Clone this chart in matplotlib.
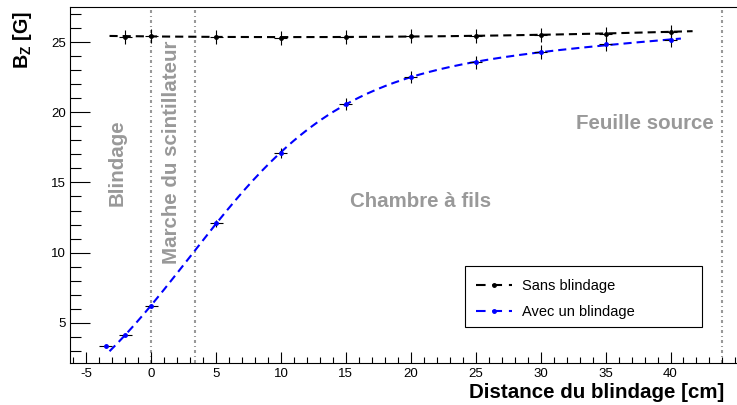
import numpy as np
import matplotlib
matplotlib.use("Agg")
import matplotlib.pyplot as plt
from matplotlib.lines import Line2D
from matplotlib.patches import Rectangle
from matplotlib.ticker import MultipleLocator, FixedLocator

plt.rcParams['font.family'] = ['Liberation Sans', 'DejaVu Sans']
plt.rcParams['mathtext.fontset'] = 'custom'
plt.rcParams['mathtext.rm'] = 'Liberation Sans'
plt.rcParams['mathtext.bf'] = 'Liberation Sans:bold'
plt.rcParams['axes.unicode_minus'] = False

# data
x_sans = [-2, 0, 5, 10, 15, 20, 25, 30, 35, 40]
y_sans = [25.38, 25.45, 25.38, 25.3, 25.35, 25.43, 25.43, 25.52, 25.6, 25.73]
yerr_sans = [0.5, 0.5, 0.5, 0.5, 0.5, 0.5, 0.5, 0.5, 0.5, 0.5]

x_avec = [-3.5, -2, 0, 5, 10, 15, 20, 25, 30, 35, 40]
y_avec = [3.35, 4.15, 6.2, 12.1, 17.1, 20.6, 22.5, 23.55, 24.27, 24.84, 25.14]
yerr_avec = [0.07, 0.08, 0.12, 0.24, 0.34, 0.41, 0.45, 0.47, 0.49, 0.5, 0.5]

xerr = 0.5
zones = [0, 3.4, 44]
xticks = [-5, 0, 5, 10, 15, 20, 25, 30, 35, 40]
fit_sans = (-3.2, 41.7)
fit_avec = (-3.2, 40.8)


def sigmoid_fit(x, y):
    # logistic + linear term; grid on centre/width, least squares for the rest
    x = np.asarray(x, float)
    y = np.asarray(y, float)
    best = None
    for x0 in np.linspace(-5, 15, 201):
        for s in np.linspace(1, 15, 141):
            g = 1 / (1 + np.exp(-(x - x0) / s))
            M = np.column_stack([np.ones_like(x), g, x])
            coef, *_ = np.linalg.lstsq(M, y, rcond=None)
            r = np.sum((M @ coef - y) ** 2)
            if best is None or r < best[0]:
                best = (r, x0, s, coef)
    _, x0, s, c = best
    return lambda t: c[0] + c[1] / (1 + np.exp(-(t - x0) / s)) + c[2] * t


fig = plt.figure(figsize=(7.37, 4.05), dpi=100)
ax = fig.add_axes([0.0954, 0.1044, 0.9046, 0.8775])
ax.set_xlim(-6.22, 45.12)
ax.set_ylim(2.16, 27.47)

grey = '#999999'
for xz in zones:
    ax.axvline(xz, color=grey, lw=1.5, ls=(0, (1.44, 1.44, 0.48, 1.44)), zorder=1)

# fits, only on points inside the fit range
p_sans = np.polyfit(x_sans, y_sans, 2)
xs = np.linspace(*fit_sans, 200)
ax.plot(xs, np.polyval(p_sans, xs), color='k', lw=1.5, ls=(0, (3.9, 2.4)), zorder=3)

xa_pts = np.array(x_avec)
sel = (xa_pts >= fit_avec[0]) & (xa_pts <= fit_avec[1])
f_avec = sigmoid_fit(xa_pts[sel], np.array(y_avec)[sel])
xa = np.linspace(*fit_avec, 200)
ax.plot(xa, f_avec(xa), color='#0000ff', lw=1.5, ls=(0, (3.9, 2.4)), zorder=3)

ax.errorbar(x_sans, y_sans, xerr=xerr, yerr=yerr_sans, fmt='o', ms=2.5,
            color='k', ecolor='k', elinewidth=0.8, capsize=0, zorder=4)
ax.errorbar(x_avec, y_avec, xerr=xerr, yerr=yerr_avec, fmt='o', ms=2.5,
            color='#0000ff', ecolor='k', elinewidth=0.8, capsize=0, zorder=4)

txt = dict(color=grey, fontsize=14.8, fontweight='bold')
ax.text(-2.62, 16.4, 'Blindage', rotation=90, ha='center', va='center', **txt)
ax.text(1.6, 17.18, 'Marche du scintillateur', rotation=90, ha='center', va='center', **txt)
ax.text(20.76, 13.25, 'Chambre à fils', ha='center', va='baseline', **txt)
ax.text(38.0, 18.82, 'Feuille source', ha='center', va='baseline', **txt)

# ticks, ROOT style
ax.xaxis.set_major_locator(FixedLocator(xticks))
ax.xaxis.set_minor_locator(MultipleLocator(1))
ax.yaxis.set_major_locator(MultipleLocator(5))
ax.yaxis.set_minor_locator(MultipleLocator(1))
ax.tick_params(axis='x', which='major', direction='in', length=7.9, width=0.8, labelsize=9.5, pad=4)
ax.tick_params(axis='x', which='minor', direction='in', length=4, width=0.8)
ax.tick_params(axis='y', which='major', direction='in', length=14.2, width=0.8, labelsize=9.5, pad=3.3)
ax.tick_params(axis='y', which='minor', direction='in', length=7.7, width=0.8)
ax.spines['right'].set_visible(False)
for s in ['left', 'bottom', 'top']:
    ax.spines[s].set_linewidth(0.8)

ax.set_xlabel('Distance du blindage [cm]', fontsize=14.8, fontweight='bold', ha='right')
ax.xaxis.set_label_coords((724 - 70.3) / 666.7, -0.0824)
ax.xaxis.label.set_va('center')
ax.set_ylabel(r'$\mathbf{B_{Z}}$ [G]', fontsize=14.2, fontweight='bold', ha='right')
ax.yaxis.set_label_coords(-0.072, 0.99)
ax.yaxis.label.set_va('center')

# legend
fig.patches.append(Rectangle((465 / 737, 1 - 327 / 405), (701.7 - 465) / 737, (327 - 265.7) / 405,
                             transform=fig.transFigure, fill=True, facecolor='white',
                             edgecolor='k', lw=0.8, zorder=5))
handles = [Line2D([], [], color='k', lw=1.5, ls=(0, (4.6, 3.3)), marker='o', ms=2.5),
           Line2D([], [], color='#0000ff', lw=1.5, ls=(0, (4.6, 3.3)), marker='o', ms=2.5)]
leg = fig.legend(handles, ['Sans blindage', 'Avec un blindage'], loc='upper left',
                 bbox_to_anchor=(464 / 737, 1 - 267 / 405), frameon=False, fontsize=10.5,
                 handlelength=2.5, handletextpad=0.7, labelspacing=0.85, numpoints=1,
                 borderpad=0.3)
leg.set_zorder(6)

fig.savefig('out.png', dpi=100)
